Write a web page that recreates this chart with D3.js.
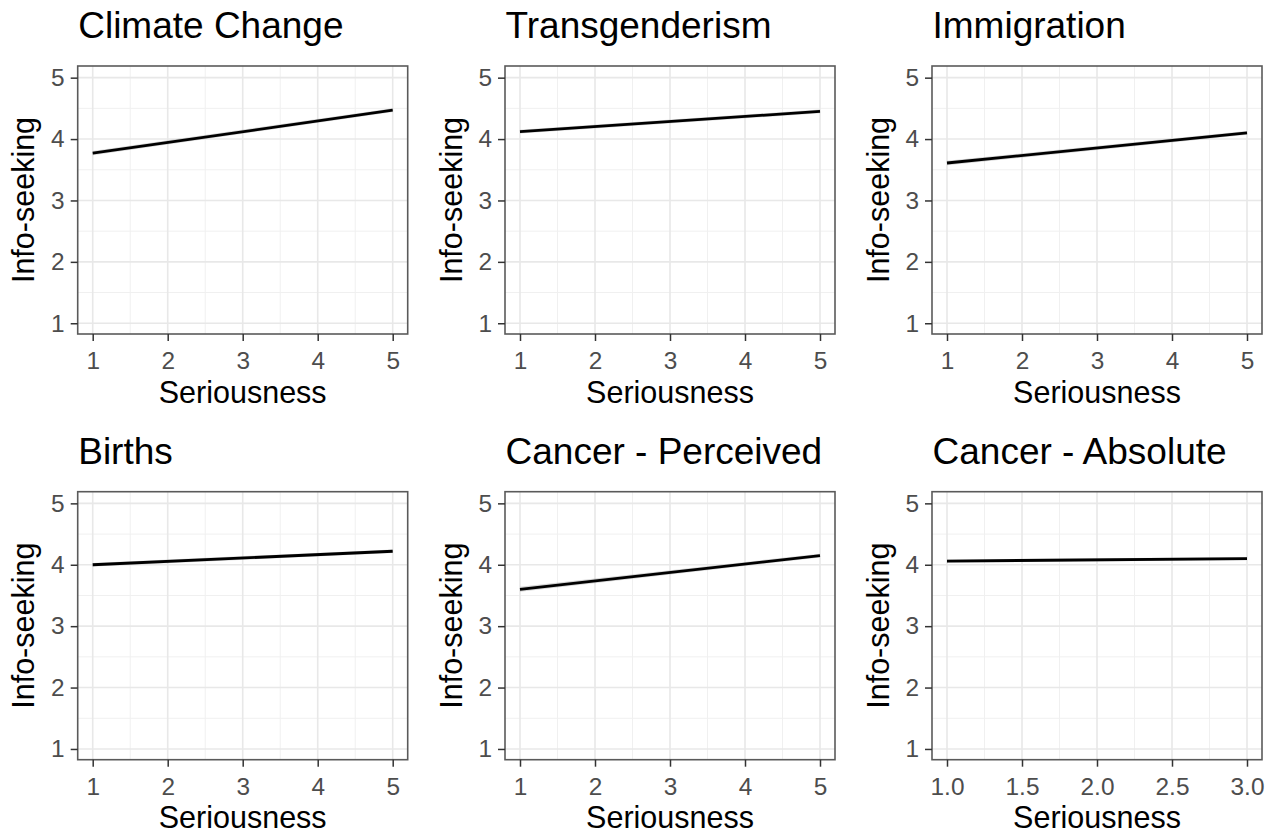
<!DOCTYPE html>
<html>
<head>
<meta charset="utf-8">
<script src="https://cdn.jsdelivr.net/npm/d3@7"></script>
<style>
  html, body { margin: 0; padding: 0; background: #ffffff; }
  svg { display: block; font-family: "Liberation Sans", Arial, Helvetica, sans-serif; }
</style>
</head>
<body>
<svg id="chart" width="1277" height="834"></svg>
<script>
// Facet titles, in reading order (row by row)
const topics = ["Climate Change", "Transgenderism", "Immigration",
                "Births", "Cancer - Perceived", "Cancer - Absolute"];

// Range of the seriousness predictor covered by each fitted line
const seriousLow  = [1, 1, 1, 1, 1, 1];
const seriousHigh = [5, 5, 5, 5, 5, 3];

// Fitted info-seeking at the low and high ends of seriousness
const seekAtLow  = [3.77, 4.12, 3.61, 4.00, 3.60, 4.06];
const seekAtHigh = [4.47, 4.45, 4.10, 4.22, 4.15, 4.10];

// Half-width of the confidence band at each end
const bandAtLow  = [0.035, 0.030, 0.035, 0.030, 0.040, 0.025];
const bandAtHigh = [0.030, 0.030, 0.030, 0.030, 0.030, 0.025];

// Axis ticks
const yTicks = [1, 2, 3, 4, 5];
const yMinor = [1.5, 2.5, 3.5, 4.5];
const xTicksWide = [1, 2, 3, 4, 5];
const xMinorWide = [1.5, 2.5, 3.5, 4.5];
const xTicksNarrow = [1.0, 1.5, 2.0, 2.5, 3.0];
const xMinorNarrow = [1.25, 1.75, 2.25, 2.75];

const xTitle = "Seriousness";
const yTitle = "Info-seeking";

// Layout
const colLeft = [77.7, 505, 932];
const rowTop = [66, 491.7];
const pw = 330, ph = 268;
const yDomain = [0.825, 5.19];

const svg = d3.select("#chart");
svg.append("rect").attr("width", 1277).attr("height", 834).attr("fill", "#ffffff");

topics.forEach((topic, i) => {
  const left = colLeft[i % 3];
  const top = rowTop[Math.floor(i / 3)];
  const lo = seriousLow[i], hi = seriousHigh[i];
  const pad = (hi - lo) * 0.05;
  const narrow = (hi - lo) < 4;
  const xTicks = narrow ? xTicksNarrow : xTicksWide;
  const xMinor = narrow ? xMinorNarrow : xMinorWide;

  const x = d3.scaleLinear().domain([lo - pad, hi + pad]).range([0, pw]);
  const y = d3.scaleLinear().domain(yDomain).range([ph, 0]);

  const g = svg.append("g").attr("transform", `translate(${left},${top})`);

  g.append("rect").attr("width", pw).attr("height", ph).attr("fill", "#ffffff");

  // minor grid
  g.selectAll(".xminor").data(xMinor).enter().append("line")
    .attr("x1", d => x(d)).attr("x2", d => x(d)).attr("y1", 0).attr("y2", ph)
    .attr("stroke", "#f0f0f0").attr("stroke-width", 1);
  g.selectAll(".yminor").data(yMinor).enter().append("line")
    .attr("y1", d => y(d)).attr("y2", d => y(d)).attr("x1", 0).attr("x2", pw)
    .attr("stroke", "#f0f0f0").attr("stroke-width", 1);
  // major grid
  g.selectAll(".xmajor").data(xTicks).enter().append("line")
    .attr("x1", d => x(d)).attr("x2", d => x(d)).attr("y1", 0).attr("y2", ph)
    .attr("stroke", "#e8e8e8").attr("stroke-width", 1.6);
  g.selectAll(".ymajor").data(yTicks).enter().append("line")
    .attr("y1", d => y(d)).attr("y2", d => y(d)).attr("x1", 0).attr("x2", pw)
    .attr("stroke", "#e8e8e8").attr("stroke-width", 1.6);

  // confidence band and fitted line
  const fit = [
    { s: lo, v: seekAtLow[i], b: bandAtLow[i] },
    { s: hi, v: seekAtHigh[i], b: bandAtHigh[i] }
  ];
  g.append("path").datum(fit)
    .attr("d", d3.area().x(d => x(d.s)).y0(d => y(d.v - d.b)).y1(d => y(d.v + d.b)))
    .attr("fill", "#999999").attr("fill-opacity", 0.4);
  g.append("path").datum(fit)
    .attr("d", d3.line().x(d => x(d.s)).y(d => y(d.v)))
    .attr("fill", "none").attr("stroke", "#000000").attr("stroke-width", 2.8);

  // panel border
  g.append("rect").attr("width", pw).attr("height", ph)
    .attr("fill", "none").attr("stroke", "#5a5a5a").attr("stroke-width", 1.6);

  // axes
  const fmt = narrow ? d3.format(".1f") : d3.format("d");
  const xAxis = g.append("g").attr("transform", `translate(0,${ph})`)
    .call(d3.axisBottom(x).tickValues(xTicks).tickFormat(fmt).tickSize(7).tickPadding(5));
  const yAxis = g.append("g")
    .call(d3.axisLeft(y).tickValues(yTicks).tickFormat(d3.format("d")).tickSize(7).tickPadding(6));
  [xAxis, yAxis].forEach(ax => {
    ax.select(".domain").remove();
    ax.selectAll(".tick line").attr("stroke", "#333333").attr("stroke-width", 1.5);
    ax.selectAll(".tick text").attr("fill", "#4d4d4d")
      .style("font-size", "24.4px").style("font-family", "Liberation Sans, Arial, sans-serif");
  });
  xAxis.selectAll(".tick text").attr("dy", "0.95em");

  // titles
  g.append("text").attr("x", 0.5).attr("y", -27.7)
    .attr("fill", "#000000").style("font-size", "37px").text(topic);
  g.append("text").attr("x", pw / 2).attr("y", ph + 68.8)
    .attr("text-anchor", "middle").attr("fill", "#000000")
    .style("font-size", "30.5px").text(xTitle);
  g.append("text")
    .attr("transform", `translate(-43.2,${ph / 2}) rotate(-90)`)
    .attr("text-anchor", "middle").attr("fill", "#000000")
    .style("font-size", "30.5px").text(yTitle);
});
</script>
</body>
</html>
